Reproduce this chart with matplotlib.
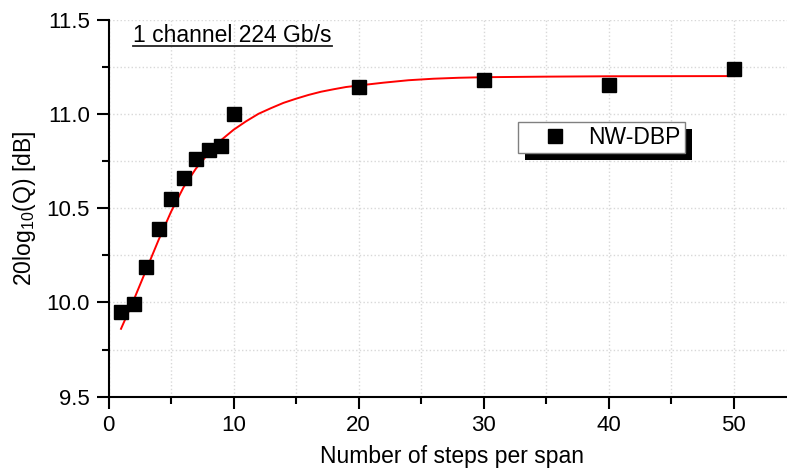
import matplotlib
matplotlib.use("Agg")
import matplotlib.pyplot as plt
from matplotlib.patches import Rectangle
from matplotlib.lines import Line2D
from matplotlib.ticker import MultipleLocator

plt.rcParams['font.family'] = ['Liberation Sans', 'DejaVu Sans']
plt.rcParams['mathtext.fontset'] = 'custom'
plt.rcParams['mathtext.rm'] = 'Liberation Sans'
plt.rcParams['mathtext.it'] = 'Liberation Sans'

# measured points
steps = [1, 2, 3, 4, 5, 6, 7, 8, 9, 10, 20, 30, 40, 50]
q_db = [9.95, 9.99, 10.19, 10.39, 10.55, 10.66, 10.76, 10.81, 10.83, 11.00,
        11.14, 11.18, 11.155, 11.235]

# fitted curve
fit_x = [1, 2, 3, 4, 5, 6, 7, 8, 9, 10, 11, 12, 13, 14, 15, 16, 17, 18, 19,
         20, 22, 24, 26, 28, 30, 35, 40, 50]
fit_y = [9.86, 10.01, 10.17, 10.33, 10.48, 10.61, 10.71, 10.79, 10.86,
         10.915, 10.96, 11.00, 11.03, 11.058, 11.08, 11.10, 11.117, 11.13,
         11.142, 11.15, 11.165, 11.178, 11.186, 11.191, 11.194, 11.197,
         11.199, 11.20]

W, H = 787, 470
fig = plt.figure(figsize=(W / 100, H / 100), dpi=100)
ax = fig.add_axes([108.5 / W, (H - 396.7) / H, 687.5 / W, 377.2 / H])

ax.plot(fit_x, fit_y, color='red', lw=1.4, zorder=3)
ax.plot(steps, q_db, 's', color='black', ms=10, label='NW-DBP', zorder=4)

ax.set_xlim(0, 55)
ax.set_ylim(9.5, 11.5)
ax.xaxis.set_major_locator(MultipleLocator(10))
ax.xaxis.set_minor_locator(MultipleLocator(5))
ax.yaxis.set_major_locator(MultipleLocator(0.5))
ax.yaxis.set_minor_locator(MultipleLocator(0.25))
ax.yaxis.set_major_formatter(matplotlib.ticker.FormatStrFormatter('%.1f'))

for s in ['top', 'right']:
    ax.spines[s].set_visible(False)
for s in ['left', 'bottom']:
    ax.spines[s].set_linewidth(1.5)

ax.tick_params(which='major', direction='out', length=8.5, width=1.5,
               labelsize=16, pad=5)
ax.tick_params(which='minor', direction='out', length=5, width=1.5)
ax.grid(which='both', color='#d8d8d8', linestyle=':', linewidth=1)
ax.set_axisbelow(True)

ax.set_xlabel('Number of steps per span', fontsize=16.5, labelpad=6)
ax.set_ylabel('20log$_{10}$(Q) [dB]', fontsize=16.5)
ax.yaxis.set_label_coords(-0.103, 0.5)

# underlined title
t = fig.text(133 / W, 1 - 42 / H, '1 channel 224 Gb/s', fontsize=16.5,
             ha='left', va='baseline')

leg = ax.legend(loc='upper left', bbox_to_anchor=(518 / W, 1 - 122 / H),
                bbox_transform=fig.transFigure, borderaxespad=0,
                fontsize=16.5, frameon=True, fancybox=False, shadow=False,
                edgecolor='#808080', framealpha=1, borderpad=0.18,
                handlelength=2.85, handletextpad=0.05, markerscale=0.95)
leg.get_frame().set_linewidth(1.0)

fig.canvas.draw()
r = fig.canvas.get_renderer()
bb = t.get_window_extent(r)
fig.add_artist(Line2D([bb.x0, bb.x1], [bb.y0 + 1, bb.y0 + 1], transform=None,
                      color='#222222', lw=1.3))
lb = leg.get_window_extent(r)
shadow = Rectangle((lb.x0 + 7, lb.y0 - 7), lb.width, lb.height, transform=None,
                   facecolor='black', edgecolor='none', zorder=leg.get_zorder() - 0.1,
                   clip_on=False)
ax.add_artist(shadow)

fig.savefig('out.png', dpi=100)
